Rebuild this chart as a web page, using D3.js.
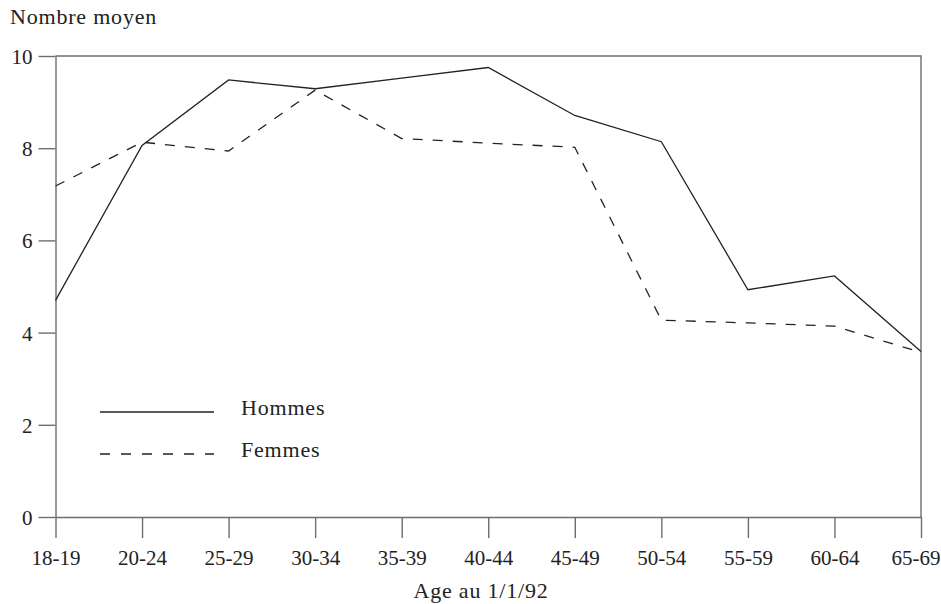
<!DOCTYPE html>
<html>
<head>
<meta charset="utf-8">
<script src="https://cdn.jsdelivr.net/npm/d3@7"></script>
<style>
  body { margin: 0; background: #fff; }
  text { font-family: "Liberation Serif", serif; fill: #222; }
  .lbl { font-size: 22px; letter-spacing: 0.8px; }
</style>
</head>
<body>
<div id="chart"></div>
<script>
// data
const ages = ["18-19", "20-24", "25-29", "30-34", "35-39", "40-44", "45-49", "50-54", "55-59", "60-64", "65-69"];
const hommes = [4.70, 8.06, 9.48, 9.29, 9.52, 9.75, 8.71, 8.14, 4.93, 5.23, 3.59];
const femmes = [7.18, 8.13, 7.94, 9.26, 8.21, 8.11, 8.02, 4.27, 4.21, 4.14, 3.57];
const yTicks = [0, 2, 4, 6, 8, 10];

const width = 941, height = 604;
const margin = {top: 56, left: 55.5, right: 20, bottom: 87};

const svg = d3.select("#chart")
    .append("svg")
    .attr("width", width)
    .attr("height", height);

const xScale = d3.scalePoint()
    .domain(ages)
    .range([margin.left, width - margin.right]);

const yScale = d3.scaleLinear()
    .domain([0, 10])
    .range([height - margin.bottom, margin.top]);

const axisColor = "#6e6e6e";

// frame (top and right)
svg.append("path")
    .attr("d", `M${margin.left},${margin.top}H${width - margin.right}V${height - margin.bottom}`)
    .attr("fill", "none")
    .attr("stroke", axisColor)
    .attr("stroke-width", 1.4);

// axes
const xAxis = svg.append("g")
    .attr("transform", `translate(0,${height - margin.bottom})`)
    .call(d3.axisBottom(xScale).tickSize(21).tickPadding(12).tickSizeOuter(0));

const yAxis = svg.append("g")
    .attr("transform", `translate(${margin.left},0)`)
    .call(d3.axisLeft(yScale).tickValues(yTicks).tickSize(17).tickPadding(6).tickSizeOuter(0));

svg.selectAll(".domain, .tick line")
    .attr("stroke", axisColor)
    .attr("stroke-width", 1.4);
svg.selectAll(".tick text")
    .style("font-family", "'Liberation Serif', serif")
    .style("font-size", "21px")
    .attr("fill", "#222");
yAxis.selectAll(".tick text").attr("dy", "0.36em");

// last label sits at the right edge, keep it inside the page
xAxis.selectAll(".tick text")
    .filter(d => d === ages[ages.length - 1])
    .attr("text-anchor", "end")
    .attr("x", 19);

// lines
const line = d3.line()
    .x((d, i) => xScale(ages[i]))
    .y(d => yScale(d));

svg.append("path")
    .datum(hommes)
    .attr("d", line)
    .attr("fill", "none")
    .attr("stroke", "#222")
    .attr("stroke-width", 1.3);

svg.append("path")
    .datum(femmes)
    .attr("d", line)
    .attr("fill", "none")
    .attr("stroke", "#222")
    .attr("stroke-width", 1.3)
    .attr("stroke-dasharray", "10,10");

// legend
const legend = [
  {label: "Hommes", dash: null, y: 412},
  {label: "Femmes", dash: "10,11", y: 454}
];
legend.forEach(function(l) {
  svg.append("line")
      .attr("x1", 100).attr("x2", 214)
      .attr("y1", l.y).attr("y2", l.y)
      .attr("stroke", "#222")
      .attr("stroke-width", 1.3)
      .attr("stroke-dasharray", l.dash);
  svg.append("text")
      .attr("class", "lbl")
      .attr("x", 241)
      .attr("y", l.y + 3)
      .text(l.label);
});

// axis labels
svg.append("text")
    .attr("class", "lbl")
    .attr("x", 10)
    .attr("y", 24)
    .text("Nombre moyen");

svg.append("text")
    .attr("class", "lbl")
    .attr("x", 481)
    .attr("y", 598)
    .attr("text-anchor", "middle")
    .text("Age au 1/1/92");
</script>
</body>
</html>
